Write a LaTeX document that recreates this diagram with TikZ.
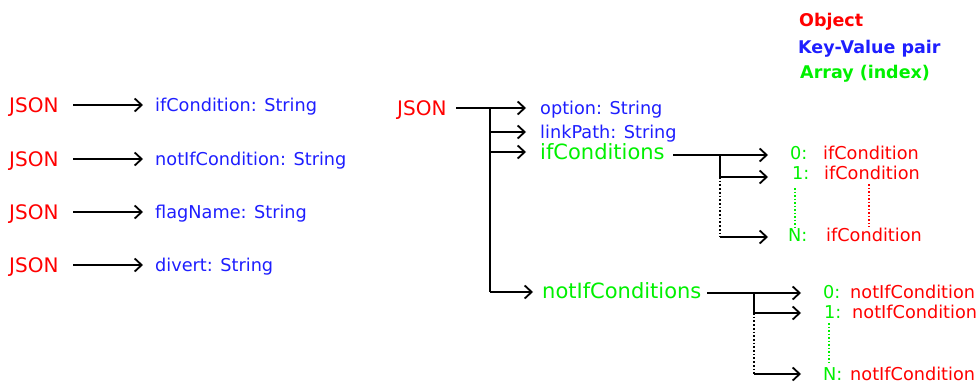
\documentclass[tikz,border=0pt]{standalone}
\usepackage{fontspec}
\setmainfont{DejaVu Sans}
\usetikzlibrary{arrows.meta,calc}
\definecolor{kvblue}{RGB}{30,30,255}
\definecolor{arrgreen}{RGB}{0,240,0}
\tikzset{
  lbl/.style={inner sep=0pt, anchor=base west},
  objtxt/.style={lbl, text=red, font=\fontsize{20}{24}\selectfont},
  kvtxt/.style={lbl, text=kvblue, font=\fontsize{17.7}{21}\selectfont},
  arrtxt/.style={lbl, text=arrgreen, font=\fontsize{21}{25}\selectfont},
  idxtxt/.style={lbl, text=arrgreen, font=\fontsize{17.7}{21}\selectfont},
  eltxt/.style={lbl, text=red, font=\fontsize{17.7}{21}\selectfont},
  legtxt/.style={lbl, font=\fontsize{17.5}{21}\selectfont\bfseries},
  wire/.style={draw=black, line width=1.8pt},
  arr/.style={wire, -{Straight Barb[length=7pt,width=13pt,line width=1.8pt]}},
  dotline/.style={draw=black, line width=1.7pt, dotted},
  gdot/.style={draw=arrgreen, line width=1.5pt, dotted},
  rdot/.style={draw=red, line width=1.5pt, dotted}
}
\begin{document}
\begin{tikzpicture}[x=1pt,y=-1pt]
\useasboundingbox (0,0) rectangle (978,383);

% legend
\node[legtxt, text=red] (lo) at (799,26) {Object};
\node[legtxt, text=kvblue] (lk) at (798,53) {Key-Value pair};
\node[legtxt, text=arrgreen] (la) at (800,78) {Array (index)};

% left column
\foreach \n/\y/\t in {1/105/ifCondition: String, 2/159/notIfCondition: String, 3/212/flagName: String, 4/265/divert: String}{
  \node[objtxt] (j\n) at (9,\y+7.3) {JSON};
  \node[kvtxt] (k\n) at (155,\y+6.5) {\t};
  \coordinate (s\n) at (73,\y);
  \coordinate (e\n) at (143,\y);
  \draw[arr] (s\n) -- (e\n);
}

% middle tree
\node[objtxt] (m0) at (397,115.3) {JSON};
\node[kvtxt] (opt) at (540,114.5) {option: String};
\node[kvtxt] (lp) at (540,138.5) {linkPath: String};
\node[arrtxt] (ifc) at (540,159.7) {ifConditions};
\node[arrtxt] (nifc) at (542,298.7) {notIfConditions};

\coordinate (m0s) at (456,108);
\coordinate (b0) at (490,108);
\coordinate (b1) at (490,132);
\coordinate (b2) at (490,152);
\coordinate (b3) at (490,292);
\coordinate (t0) at (526,108);
\coordinate (t1) at (526,132);
\coordinate (t2) at (526,152);
\coordinate (t3) at (533,292);
\draw[wire] (m0s) -- (b0) -- (b3);
\draw[arr] (b0) -- (t0);
\draw[arr] (b1) -- (t1);
\draw[arr] (b2) -- (t2);
\draw[arr] (b3) -- (t3);

% ifConditions array
\coordinate (ics) at (673,155);
\coordinate (ic0) at (720,155);
\coordinate (ic1) at (720,177);
\coordinate (icN) at (720,237);
\coordinate (ict0) at (768,155);
\coordinate (ict1) at (768,177);
\coordinate (ictN) at (768,237);
\draw[wire] (ics) -- (ic0) -- (ic1);
\draw[dotline] (ic1) -- (icN);
\draw[arr] (ic0) -- (ict0);
\draw[arr] (ic1) -- (ict1);
\draw[arr] (icN) -- (ictN);

\node[idxtxt] (i0) at (790,159.5) {0:};
\node[eltxt] (r0) at (823,159.5) {ifCondition};
\node[idxtxt] (i1) at (792,179.5) {1:};
\node[eltxt] (r1) at (824,179.5) {ifCondition};
\node[idxtxt] (iN) at (788,241.5) {N:};
\node[eltxt] (rN) at (826,241.5) {ifCondition};
\coordinate (ga) at (795,188);
\coordinate (gb) at (795,227);
\draw[gdot] (ga) -- (gb);
\coordinate (ra) at (869,184);
\coordinate (rb) at (869,227);
\draw[rdot] (ra) -- (rb);

% notIfConditions array
\coordinate (ncs) at (707,293);
\coordinate (nc0) at (754,293);
\coordinate (nc1) at (754,313);
\coordinate (ncN) at (754,374);
\coordinate (nct0) at (801,293);
\coordinate (nct1) at (801,313);
\coordinate (nctN) at (801,374);
\draw[wire] (ncs) -- (nc0) -- (nc1);
\draw[dotline] (nc1) -- (ncN);
\draw[arr] (nc0) -- (nct0);
\draw[arr] (nc1) -- (nct1);
\draw[arr] (ncN) -- (nctN);

\node[idxtxt] (n0) at (823,298.5) {0:};
\node[eltxt] (q0) at (850,298.5) {notIfCondition};
\node[idxtxt] (n1) at (824,318.5) {1:};
\node[eltxt] (q1) at (852,318.5) {notIfCondition};
\node[idxtxt] (nN) at (823,380.5) {N:};
\node[eltxt] (qN) at (850,380.5) {notIfCondition};
\coordinate (ha) at (829,323);
\coordinate (hb) at (829,364);
\draw[gdot] (ha) -- (hb);
\end{tikzpicture}
\end{document}
